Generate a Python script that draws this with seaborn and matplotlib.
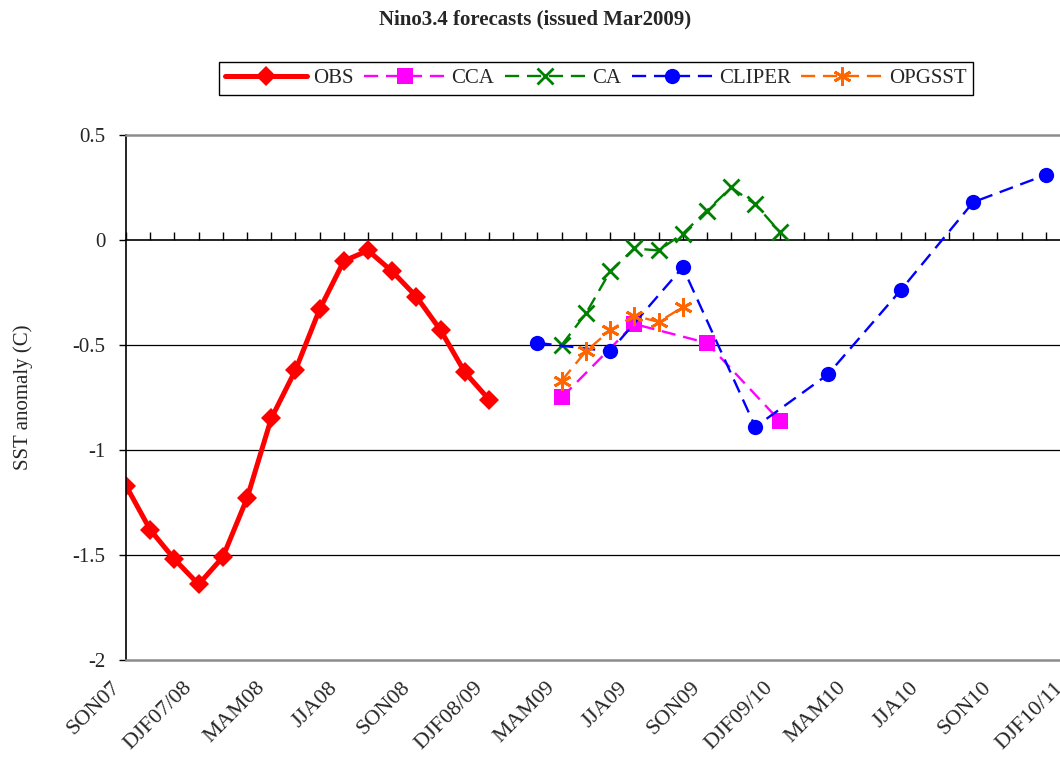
import matplotlib
matplotlib.use("Agg")
import matplotlib.pyplot as plt
import matplotlib.transforms as mtransforms
import pandas as pd
import seaborn as sns

# ---- Season axis (overlapping 3-month seasons, SON07 .. DJF10/11) ----
MONTH_INITIALS = "JFMAMJJASOND"
START_MONTH, START_YEAR, N_SEASONS = 8, 2007, 40


def season_name(k):
    m0 = (START_MONTH + k) % 12
    y0 = START_YEAR + (START_MONTH + k) // 12
    code = "".join(MONTH_INITIALS[(m0 + j) % 12] for j in range(3))
    if m0 >= 10:
        return f"{code}{y0 % 100:02d}/{(y0 + 1) % 100:02d}"
    return f"{code}{y0 % 100:02d}"


seasons = [season_name(k) for k in range(N_SEASONS)]

tick_labels = ["SON07", "DJF07/08", "MAM08", "JJA08", "SON08", "DJF08/09",
               "MAM09", "JJA09", "SON09", "DJF09/10", "MAM10", "JJA10",
               "SON10", "DJF10/11"]

# ---- Observed and forecast Nino3.4 SST anomalies (C) ----
obs_start = "SON07"
obs_values = [-1.17, -1.38, -1.52, -1.64, -1.51, -1.23, -0.85, -0.62,
              -0.33, -0.10, -0.05, -0.15, -0.27, -0.43, -0.63, -0.76]

cca_seasons = ["MAM09", "JJA09", "SON09", "DJF09/10"]
cca_values = [-0.75, -0.40, -0.49, -0.86]

ca_start = "MAM09"
ca_values = [-0.50, -0.35, -0.15, -0.04, -0.05, 0.03, 0.14, 0.25, 0.17, 0.04]

cliper_seasons = ["FMA09", "MJJ09", "ASO09", "NDJ09/10",
                  "FMA10", "MJJ10", "ASO10", "NDJ10/11"]
cliper_values = [-0.49, -0.53, -0.13, -0.89, -0.64, -0.24, 0.18, 0.31]

opgsst_start = "MAM09"
opgsst_values = [-0.67, -0.53, -0.43, -0.36, -0.39, -0.32]


def consecutive(start, values):
    i0 = seasons.index(start)
    return pd.DataFrame({"pos": range(i0, i0 + len(values)), "sst": values})


def listed(names, values):
    return pd.DataFrame({"pos": [seasons.index(n) for n in names], "sst": values})


series = [
    ("OBS", consecutive(obs_start, obs_values),
     dict(color="#FF0000", lw=3.6, ls="-", marker="D", ms=10.5, mew=0)),
    ("CCA", listed(cca_seasons, cca_values),
     dict(color="#FF00FF", lw=1.7, ls=(0, (6, 3.3)), marker="s", ms=11, mew=0)),
    ("CA", consecutive(ca_start, ca_values),
     dict(color="#008000", lw=1.7, ls=(0, (6, 3.3)), marker="x", ms=12, mew=2)),
    ("CLIPER", listed(cliper_seasons, cliper_values),
     dict(color="#0000FF", lw=1.7, ls=(0, (6, 3.3)), marker="o", ms=11, mew=0)),
    ("OPGSST", consecutive(opgsst_start, opgsst_values),
     dict(color="#FF6600", lw=1.7, ls=(0, (6, 3.3)), marker=(6, 2, 0), ms=13, mew=2)),
]

# ---- Figure ----
sns.set_style("white")
plt.rcParams["font.family"] = ["Liberation Serif", "DejaVu Serif"]
plt.rcParams["font.size"] = 15

W, H = 1060, 758
fig = plt.figure(figsize=(W / 100, H / 100), dpi=100)
# plot area runs past the right edge of the canvas
ax = fig.add_axes([126 / W, 98 / H, 944 / W, 525 / H])

for name, df, st in series:
    sns.lineplot(data=df, x="pos", y="sst", ax=ax, label=name,
                 color=st["color"], linewidth=st["lw"], linestyle=st["ls"],
                 marker=st["marker"], markersize=st["ms"],
                 markeredgewidth=st["mew"], markeredgecolor=st["color"],
                 markerfacecolor=st["color"])

handles, labels = ax.get_legend_handles_labels()
if ax.get_legend() is not None:
    ax.get_legend().remove()

ax.set_xlim(0, N_SEASONS - 1)
ax.set_ylim(-2, 0.5)
ax.set_yticks([0.5, 0, -0.5, -1, -1.5, -2])
ax.set_yticklabels(["0.5", "0", "-0.5", "-1", "-1.5", "-2"])
ax.set_xticks(range(0, N_SEASONS, 3))
ax.set_xticklabels(tick_labels, rotation=45, ha="right", va="center",
                   rotation_mode="anchor", fontsize=16)
ax.tick_params(axis="x", length=0, pad=18)
ax.tick_params(axis="y", length=5, width=1, color="black", pad=10,
               direction="out", left=True)
shift = mtransforms.ScaledTranslation(-9 / 100, 0, fig.dpi_scale_trans)
for lbl in ax.get_xticklabels():
    lbl.set_transform(lbl.get_transform() + shift)

for y in (-0.5, -1.0, -1.5):
    ax.axhline(y, color="black", lw=0.9, zorder=0)

for side in ("top", "bottom"):
    ax.spines[side].set_color("#8C8C8C")
    ax.spines[side].set_linewidth(1.8)
ax.spines["left"].set_color("black")
ax.spines["left"].set_linewidth(1.2)
ax.spines["right"].set_visible(False)

# category axis crossing at zero, with a tick at every season
zero_frac = (0 - (-2)) / (0.5 - (-2))
sec = ax.secondary_xaxis(zero_frac)
sec.set_xticks(range(N_SEASONS))
sec.tick_params(axis="x", direction="out", length=6, width=1, color="black",
                labeltop=False, labelbottom=False)
for sp in sec.spines.values():
    sp.set_color("black")
    sp.set_linewidth(1.2)

ax.set_xlabel("")
ax.set_ylabel("SST anomaly (C)")
ax.yaxis.set_label_coords((33 - 126) / 944, 0.5)

fig.text(535 / W, 1 - 19 / H, "Nino3.4 forecasts (issued Mar2009)",
         ha="center", va="center", fontweight="bold", fontsize=15)

fig.legend(handles, labels, loc="center", bbox_to_anchor=(596 / W, 1 - 78.5 / H),
           ncol=5, frameon=True, fancybox=False, edgecolor="black",
           framealpha=1, handlelength=3.9, handletextpad=0.3,
           columnspacing=0.5, borderpad=0.3, numpoints=1, fontsize=15)
fig.legends[0].get_frame().set_linewidth(1.0)

fig.savefig("out.png", dpi=100)
